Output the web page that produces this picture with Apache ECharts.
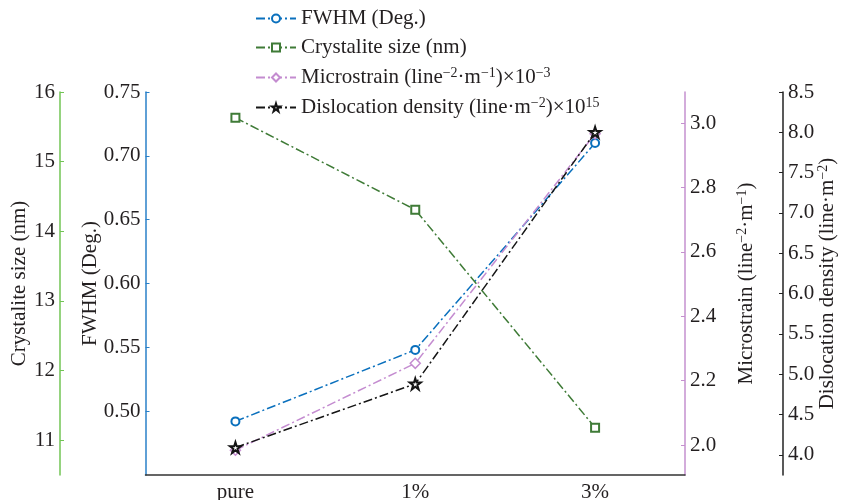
<!DOCTYPE html>
<html>
<head>
<meta charset="utf-8">
<script src="https://cdn.jsdelivr.net/npm/echarts@6/dist/echarts.min.js"></script>
<style>html,body{margin:0;padding:0;background:#fff}#c{width:841px;height:500px}</style>
</head>
<body>
<div id="c"></div>
<script>
var categories = ['pure', '1%', '3%'];
var fwhm = [0.492, 0.548, 0.710];
var crystal = [15.63, 14.31, 11.18];
var microstrain = [1.984, 2.254, 2.967];
var dislocation = [4.09, 4.88, 8.00];

var fwhmTicks = [0.50, 0.55, 0.60, 0.65, 0.70, 0.75];
var crystalTicks = [11, 12, 13, 14, 15, 16];
var strainTicks = [2.0, 2.2, 2.4, 2.6, 2.8, 3.0];
var dislocTicks = [4.0, 4.5, 5.0, 5.5, 6.0, 6.5, 7.0, 7.5, 8.0, 8.5];

var FONT = 'Liberation Serif';
var FS = 21;
var TXT = '#231f20';
var C_BLUE = '#0a70bd', C_GREEN = '#3f7b37', C_PINK = '#c48cd0', C_BLACK = '#151515';
var AX_BLUE = '#2a80c8', AX_GREEN = '#72c455', AX_PINK = '#c590cf', AX_BLACK = '#222';

var rich = {
  n: {fontFamily: FONT, fontSize: FS, color: TXT, lineHeight: 23},
  s: {fontFamily: FONT, fontSize: 14, color: TXT, lineHeight: 12, verticalAlign: 'top'}
};
var legendText = {
  'FWHM': '{n|FWHM (Deg.)}',
  'Crystalite': '{n|Crystalite size (nm)}',
  'Microstrain': '{n|Microstrain (line}{s|−2}{n|·m}{s|−1}{n|)×10}{s|−3}',
  'Dislocation': '{n|Dislocation density (line·m}{s|−2}{n|)×10}{s|15}'
};
var star = 'path://M50,2 L61,36 L97,36 L68,57 L79,92 L50,70 L21,92 L32,57 L3,36 L39,36 Z';
var dashDot = [9, 3, 2, 3];

function yAx(o) {
  return Object.assign({
    type: 'value', nameLocation: 'middle', nameRotate: 90, nameMoveOverlap: false,
    splitLine: {show: false},
    nameTextStyle: {fontFamily: FONT, fontSize: FS, color: TXT, rich: rich}
  }, o);
}
function mk(axisColor, ticks, dec) {
  return {
    axisLine: {show: true, lineStyle: {width: 1.5, color: axisColor}},
    axisTick: {show: true, inside: true, length: 4, customValues: ticks, lineStyle: {color: axisColor}},
    axisLabel: {fontFamily: FONT, fontSize: FS, color: TXT, margin: 5, customValues: ticks,
      formatter: function (v) { return dec === 0 ? String(Math.round(v)) : v.toFixed(dec); }}
  };
}

var option = {
  animation: false,
  backgroundColor: '#fff',
  grid: {left: 145.5, right: 156, top: 92, bottom: 25, containLabel: false, outerBoundsMode: 'none'},
  legend: {
    orient: 'vertical', left: 250, top: 3, itemWidth: 40, itemHeight: 10, itemGap: 8,
    data: ['FWHM', 'Crystalite', 'Microstrain', 'Dislocation'],
    formatter: function (n) { return legendText[n]; },
    textStyle: {fontFamily: FONT, fontSize: FS, color: TXT, rich: rich}
  },
  xAxis: {
    type: 'category', data: categories, boundaryGap: true,
    axisLine: {lineStyle: {color: '#333', width: 1.5}},
    axisTick: {inside: true, alignWithLabel: true, length: 6, lineStyle: {color: '#333'}},
    axisLabel: {fontFamily: FONT, fontSize: FS, color: TXT, margin: 7}
  },
  yAxis: [
    Object.assign(yAx({position: 'left', offset: 0, min: 0.45, max: 0.75,
      name: 'FWHM (Deg.)', nameGap: 45}), mk(AX_BLUE, fwhmTicks, 2)),
    Object.assign(yAx({position: 'left', offset: 85.5, min: 10.5, max: 16,
      name: 'Crystalite size (nm)', nameGap: 30}), mk(AX_GREEN, crystalTicks, 0)),
    Object.assign(yAx({position: 'right', offset: 0, min: 1.907, max: 3.097,
      name: '{n|Microstrain (line}{s|−2}{n|·m}{s|−1}{n|)}', nameGap: 50}), mk(AX_PINK, strainTicks, 1)),
    Object.assign(yAx({position: 'right', offset: 98, min: 3.75, max: 8.5,
      name: '{n|Dislocation density (line·m}{s|−2}{n|)}', nameGap: 33}), mk(AX_BLACK, dislocTicks, 1))
  ],
  series: [
    {name: 'FWHM', type: 'line', yAxisIndex: 0, data: fwhm, symbol: 'circle', symbolSize: 8,
      lineStyle: {color: C_BLUE, width: 1.5, type: dashDot},
      itemStyle: {color: '#fff', borderColor: C_BLUE, borderWidth: 2}},
    {name: 'Crystalite', type: 'line', yAxisIndex: 1, data: crystal, symbol: 'rect', symbolSize: 8,
      lineStyle: {color: C_GREEN, width: 1.5, type: dashDot},
      itemStyle: {color: '#fff', borderColor: C_GREEN, borderWidth: 2}},
    {name: 'Microstrain', type: 'line', yAxisIndex: 2, data: microstrain, symbol: 'diamond', symbolSize: 10,
      lineStyle: {color: C_PINK, width: 1.5, type: dashDot},
      itemStyle: {color: '#fff', borderColor: C_PINK, borderWidth: 1.5}},
    {name: 'Dislocation', type: 'line', yAxisIndex: 3, data: dislocation, symbol: star, symbolSize: 11,
      lineStyle: {color: C_BLACK, width: 1.5, type: dashDot},
      itemStyle: {color: '#fff', borderColor: C_BLACK, borderWidth: 2}}
  ]
};
var chart = echarts.init(document.getElementById('c'), null, {renderer: 'canvas'});
chart.setOption(option);
</script>
</body>
</html>
